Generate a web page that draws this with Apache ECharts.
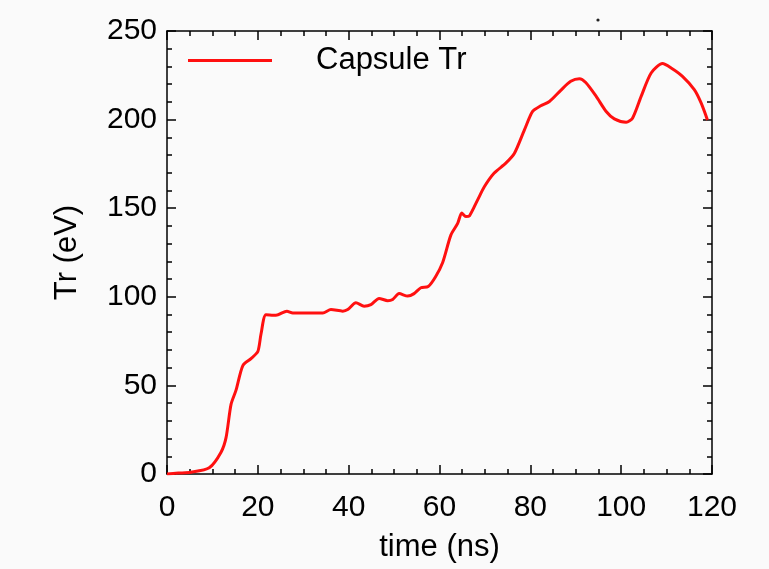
<!DOCTYPE html>
<html>
<head>
<meta charset="utf-8">
<script src="https://cdn.jsdelivr.net/npm/echarts@6/dist/echarts.min.js"></script>
<style>
html,body{margin:0;padding:0;background:#fafafa;}
#chart{width:769px;height:569px;}
</style>
</head>
<body>
<div id="chart"></div>
<script>
var seriesName = 'Capsule Tr';
var xTitle = 'time (ns)';
var yTitle = 'Tr (eV)';
var xTicks = [0, 20, 40, 60, 80, 100, 120];
var yTicks = [0, 50, 100, 150, 200, 250];
var timeNs = [0, 2.5, 5.3, 9.3, 11.9, 13, 14.1, 15.2, 16.7, 18.5, 20, 20.7, 21.8, 24, 26.4, 27.7, 34.3, 36.1, 38.7, 39.8,
  41.6, 43.4, 44.9, 46.7, 48.6, 49.7, 51.1, 53, 54.4, 55.9, 57.5, 59.1, 60.7, 62.5, 64, 64.9, 65.8, 66.6, 68.4, 69.9,
  72, 74.6, 76.5, 78.7, 80.5, 82.3, 84.2, 86.7, 88.9, 90.8, 92.2, 94.5, 96.7, 98.5, 101.1, 102.5, 104.4, 106.6, 109.1, 111,
  113.5, 116.1, 117.6, 119];
var trEv = [0, 0.5, 1.0, 3.5, 12.3, 20.5, 39.3, 47.3, 61.2, 65.1, 69.1, 79, 89.9, 89.6, 91.9, 90.9, 90.9, 92.8, 91.9, 92.8,
  96.6, 94.7, 95.6, 99.1, 97.8, 98.5, 101.8, 100.4, 101.8, 105.1, 105.8, 111.2, 119.4, 134.8, 141.4, 147.3, 145.3, 145.7, 154.7, 162.2,
  169.7, 175.4, 181, 194.2, 204.6, 207.8, 210.2, 216.5, 221.6, 223.1, 220.9, 213.1, 204.6, 200.4, 198.5, 200.8, 213.1, 226.3, 231.6, 229.1,
  224.4, 216.9, 209.4, 199.8];

var data = timeNs.map(function (t, i) { return [t, trEv[i]]; });
var font = 'Liberation Sans, Arial, Helvetica, sans-serif';
var axisLineStyle = { color: '#000', width: 1.5 };
var tickStyle = { color: '#000', width: 1.5 };

var chart = echarts.init(document.getElementById('chart'), null, { renderer: 'canvas' });
chart.setOption({
  backgroundColor: '#fafafa',
  animation: false,
  grid: { left: 167, right: 57, top: 31, bottom: 95 },
  legend: {
    left: 188, top: 45, padding: 0,
    itemWidth: 84, itemHeight: 3,
    data: [{ name: seriesName, icon: 'rect' }],
    itemStyle: { color: '#ff1010' },
    textStyle: { fontFamily: font, fontSize: 31, color: '#000', padding: [0, 0, 0, 39] }
  },
  xAxis: [{
    type: 'value', min: xTicks[0], max: xTicks[xTicks.length - 1], interval: 20,
    position: 'bottom',
    name: xTitle, nameLocation: 'middle', nameGap: 58,
    nameTextStyle: { fontFamily: font, fontSize: 31, color: '#000' },
    axisLine: { show: true, onZero: false, lineStyle: axisLineStyle },
    axisTick: { show: true, inside: true, length: 9, lineStyle: tickStyle },
    minorTick: { show: true, splitNumber: 4, length: 5, lineStyle: tickStyle },
    axisLabel: { fontFamily: font, fontSize: 30, color: '#000', margin: 19 },
    splitLine: { show: false }
  }, {
    type: 'value', min: xTicks[0], max: xTicks[xTicks.length - 1], interval: 20,
    position: 'top',
    axisLine: { show: true, onZero: false, lineStyle: axisLineStyle },
    axisTick: { show: true, inside: true, length: 9, lineStyle: tickStyle },
    minorTick: { show: true, splitNumber: 4, length: 5, lineStyle: tickStyle },
    axisLabel: { show: false },
    splitLine: { show: false }
  }],
  yAxis: [{
    type: 'value', min: yTicks[0], max: yTicks[yTicks.length - 1], interval: 50,
    position: 'left',
    name: yTitle, nameLocation: 'middle', nameGap: 84, nameRotate: 90,
    nameTextStyle: { fontFamily: font, fontSize: 31, color: '#000' },
    axisLine: { show: true, onZero: false, lineStyle: axisLineStyle },
    axisTick: { show: true, inside: true, length: 9, lineStyle: tickStyle },
    minorTick: { show: true, splitNumber: 5, length: 5, lineStyle: tickStyle },
    axisLabel: { fontFamily: font, fontSize: 30, color: '#000', margin: 10 },
    splitLine: { show: false }
  }, {
    type: 'value', min: yTicks[0], max: yTicks[yTicks.length - 1], interval: 50,
    position: 'right',
    axisLine: { show: true, onZero: false, lineStyle: axisLineStyle },
    axisTick: { show: true, inside: true, length: 9, lineStyle: tickStyle },
    minorTick: { show: true, splitNumber: 5, length: 5, lineStyle: tickStyle },
    axisLabel: { show: false },
    splitLine: { show: false }
  }],
  series: [{
    name: seriesName,
    type: 'line',
    xAxisIndex: 0, yAxisIndex: 0,
    data: data,
    smooth: 0.25,
    showSymbol: false,
    symbol: 'none',
    lineStyle: { color: '#ff1010', width: 3 },
    itemStyle: { color: '#ff1010' }
  }],
  graphic: [{
    type: 'circle', shape: { cx: 598, cy: 20, r: 1.6 }, style: { fill: '#222' }
  }]
});
</script>
</body>
</html>
